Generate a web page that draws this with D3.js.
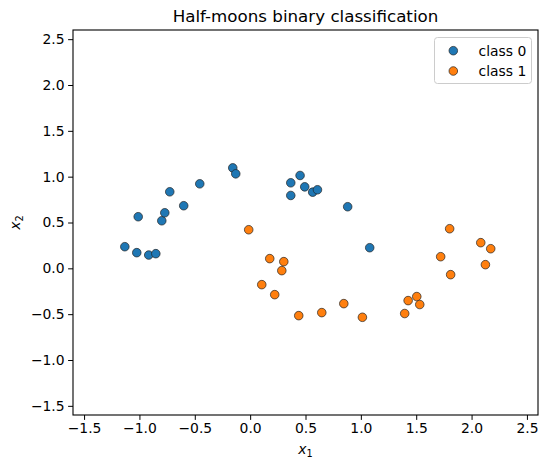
<!DOCTYPE html>
<html>
<head>
<meta charset="utf-8">
<script src="https://cdn.jsdelivr.net/npm/d3@7"></script>
<style>
  body { margin: 0; background: #fff; }
  svg { font-family: "DejaVu Sans", sans-serif; }
</style>
</head>
<body>
<svg id="chart" width="548" height="469"></svg>
<script>
const title = "Half-moons binary classification";
const seriesNames = ["class 0", "class 1"];
const class0X = [-1.011, -0.798, -0.771, -0.726, -0.600, -0.455, -0.157, -0.130, -1.132, -1.024, -0.916, -0.852, 0.451, 0.367, 0.367, 0.493, 0.565, 0.608, 0.881, 1.080];
const class0Y = [0.563, 0.519, 0.606, 0.835, 0.683, 0.922, 1.096, 1.031, 0.236, 0.171, 0.145, 0.160, 1.013, 0.933, 0.795, 0.889, 0.831, 0.857, 0.672, 0.225];
const class1X = [-0.013, 0.177, 0.304, 0.286, 0.105, 0.222, 0.439, 0.647, 0.846, 1.014, 1.802, 2.083, 2.173, 1.721, 2.125, 1.811, 1.505, 1.427, 1.532, 1.396];
const class1Y = [0.421, 0.106, 0.073, -0.025, -0.178, -0.287, -0.516, -0.483, -0.385, -0.534, 0.432, 0.280, 0.214, 0.127, 0.040, -0.069, -0.308, -0.352, -0.395, -0.493];
const xTicks = [-1.5, -1.0, -0.5, 0.0, 0.5, 1.0, 1.5, 2.0, 2.5];
const yTicks = [-1.5, -1.0, -0.5, 0.0, 0.5, 1.0, 1.5, 2.0, 2.5];
const xDomain = [-1.6, 2.6];
const yDomain = [-1.6, 2.6];
const colors = ["#1f77b4", "#ff7f0e"];

const svg = d3.select("#chart");
const L = 73, R = 538, T = 30, B = 415;
const x = d3.scaleLinear().domain(xDomain).range([L, R]);
const y = d3.scaleLinear().domain(yDomain).range([B, T]);
const fmt = v => d3.format(".1f")(v).replace("-", "\u2212");

// points
const series = [
  class0X.map((v, i) => ({x: v, y: class0Y[i]})),
  class1X.map((v, i) => ({x: v, y: class1Y[i]}))
];
series.forEach((pts, k) => {
  svg.append("g").selectAll("circle").data(pts).join("circle")
    .attr("cx", d => x(d.x)).attr("cy", d => y(d.y)).attr("r", 4.3)
    .attr("fill", colors[k]).attr("stroke", "#222").attr("stroke-width", 0.7);
});

// axes
const xAxis = d3.axisBottom(x).tickValues(xTicks).tickFormat(fmt).tickSizeOuter(0).tickSize(4.9).tickPadding(3.5);
const yAxis = d3.axisLeft(y).tickValues(yTicks).tickFormat(fmt).tickSizeOuter(0).tickSize(4.9).tickPadding(3.5);
const gx = svg.append("g").attr("transform", `translate(0,${B})`).call(xAxis);
const gy = svg.append("g").attr("transform", `translate(${L},0)`).call(yAxis);
[gx, gy].forEach(g => {
  g.select(".domain").remove();
  g.selectAll("line").attr("stroke", "#000").attr("stroke-width", 1);
  g.selectAll("text").attr("fill", "#000").style("font-size", "13.9px").style("font-family", "DejaVu Sans");
});

// frame
svg.append("rect").attr("x", L).attr("y", T).attr("width", R - L).attr("height", B - T)
  .attr("fill", "none").attr("stroke", "#000").attr("stroke-width", 1.1);

// title
svg.append("text").attr("x", (L + R) / 2).attr("y", T - 8).attr("text-anchor", "middle")
  .style("font-size", "16.7px").text(title);

// axis labels
const xl = svg.append("text").attr("x", (L + R) / 2).attr("y", 454).attr("text-anchor", "middle")
  .style("font-size", "13.9px");
xl.append("tspan").style("font-style", "italic").text("x");
xl.append("tspan").attr("dy", 3).style("font-size", "9.7px").text("1");

const yl = svg.append("text").attr("transform", `translate(20,${(T + B) / 2}) rotate(-90)`)
  .attr("text-anchor", "middle").style("font-size", "13.9px");
yl.append("tspan").style("font-style", "italic").text("x");
yl.append("tspan").attr("dy", 3).style("font-size", "9.7px").text("2");

// legend
const lg = svg.append("g");
lg.append("rect").attr("x", 434.5).attr("y", 37.5).attr("width", 97).attr("height", 46).attr("rx", 3)
  .attr("fill", "#fff").attr("fill-opacity", 0.8).attr("stroke", "#ccc").attr("stroke-width", 1);
seriesNames.forEach((name, k) => {
  const cy = 50.7 + k * 20.3;
  lg.append("circle").attr("cx", 453.3).attr("cy", cy).attr("r", 4.3)
    .attr("fill", colors[k]).attr("stroke", "#222").attr("stroke-width", 0.7);
  lg.append("text").attr("x", 478.5).attr("y", cy + 5).style("font-size", "13.9px").text(name);
});
</script>
</body>
</html>
